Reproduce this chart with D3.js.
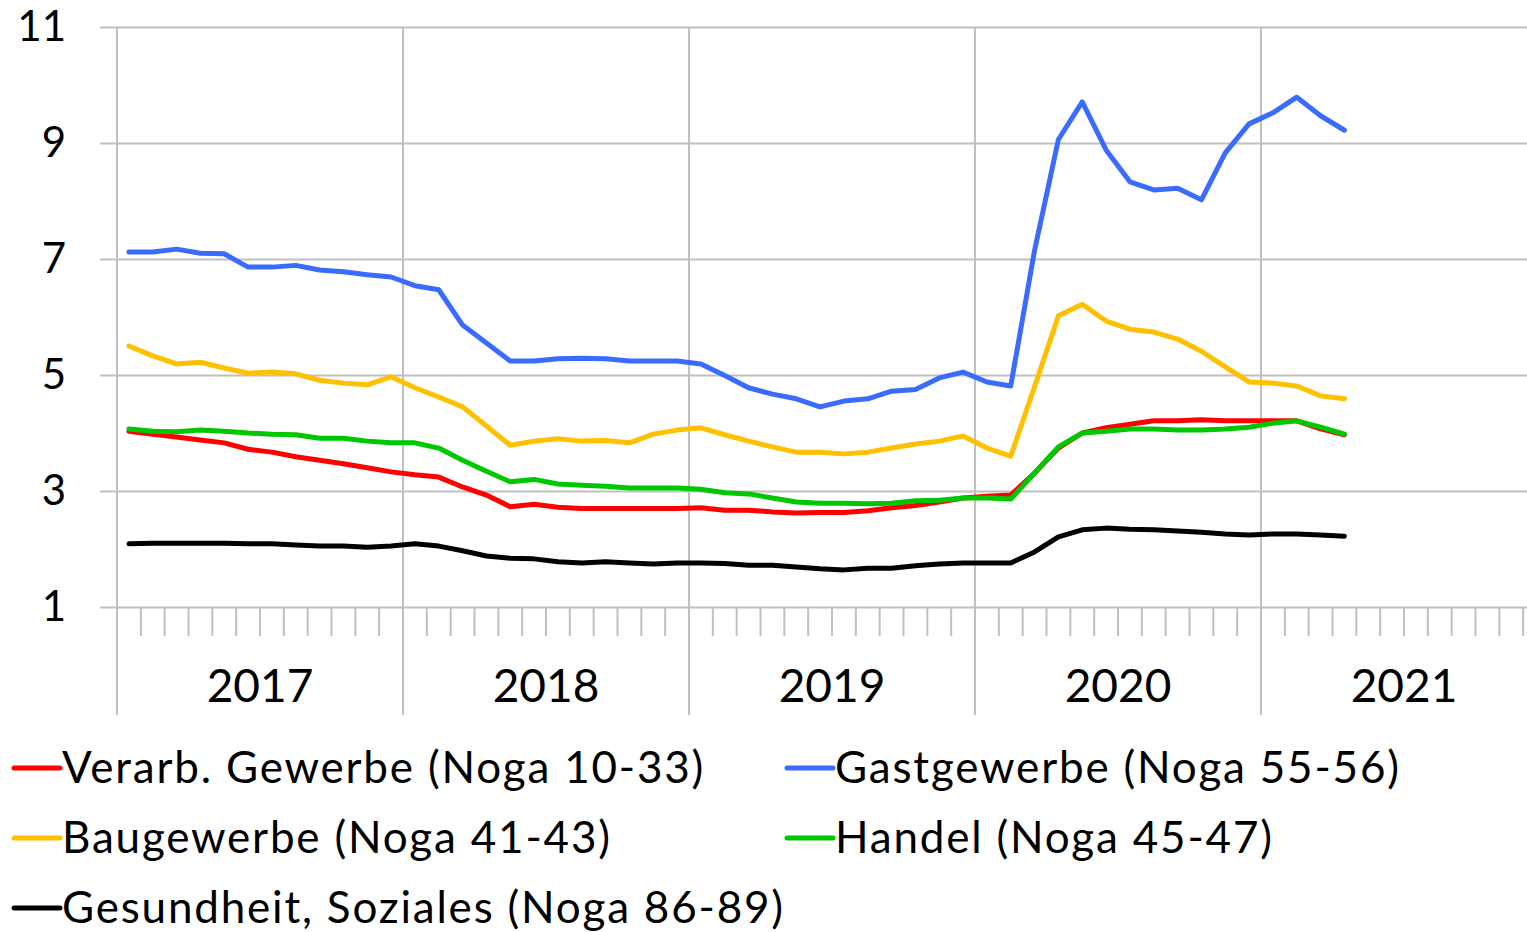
<!DOCTYPE html>
<html>
<head>
<meta charset="utf-8">
<script src="https://cdn.jsdelivr.net/npm/d3@7"></script>
<style>
  body { margin: 0; background: #fff; }
  svg { display: block; }
  text { font-family: Lato, "Open Sans", sans-serif; fill: #000; }
</style>
</head>
<body>
<svg width="1527" height="932"></svg>
<script>
// monthly values, Jan 2017 .. Apr 2021
const years = ["2017", "2018", "2019", "2020", "2021"];
const yTicks = [1, 3, 5, 7, 9, 11];

const verarb = [4.03, 3.98, 3.93, 3.88, 3.83, 3.72, 3.67, 3.59, 3.53, 3.47, 3.40, 3.33,
  3.28, 3.24, 3.07, 2.93, 2.73, 2.77, 2.72, 2.70, 2.70, 2.70, 2.70, 2.70,
  2.71, 2.67, 2.67, 2.64, 2.62, 2.63, 2.63, 2.66, 2.71, 2.75, 2.81, 2.88,
  2.91, 2.93, 3.31, 3.74, 4.00, 4.09, 4.15, 4.21, 4.21, 4.23, 4.21, 4.21,
  4.21, 4.21, 4.07, 3.97];
const gast = [7.12, 7.12, 7.17, 7.10, 7.09, 6.86, 6.86, 6.89, 6.81, 6.78, 6.73, 6.69,
  6.54, 6.47, 5.86, 5.55, 5.24, 5.24, 5.28, 5.29, 5.28, 5.24, 5.24, 5.24,
  5.19, 4.99, 4.78, 4.67, 4.59, 4.45, 4.55, 4.59, 4.72, 4.75, 4.95, 5.05,
  4.88, 4.81, 7.15, 9.06, 9.71, 8.88, 8.33, 8.19, 8.22, 8.02, 8.83, 9.33,
  9.52, 9.79, 9.47, 9.22];
const bau = [5.50, 5.33, 5.19, 5.22, 5.12, 5.03, 5.05, 5.02, 4.91, 4.86, 4.83, 4.97,
  4.78, 4.62, 4.45, 4.12, 3.79, 3.86, 3.90, 3.86, 3.87, 3.83, 3.98, 4.05,
  4.09, 3.97, 3.86, 3.76, 3.67, 3.67, 3.64, 3.67, 3.74, 3.81, 3.86, 3.95,
  3.74, 3.60, 4.80, 6.02, 6.22, 5.93, 5.79, 5.74, 5.62, 5.41, 5.14, 4.88,
  4.86, 4.81, 4.64, 4.59];
const handel = [4.07, 4.03, 4.02, 4.05, 4.03, 4.00, 3.98, 3.97, 3.91, 3.91, 3.86, 3.83,
  3.83, 3.74, 3.53, 3.34, 3.16, 3.20, 3.12, 3.10, 3.08, 3.05, 3.05, 3.05,
  3.03, 2.97, 2.95, 2.88, 2.81, 2.79, 2.79, 2.78, 2.79, 2.83, 2.84, 2.88,
  2.88, 2.86, 3.31, 3.76, 4.00, 4.03, 4.07, 4.07, 4.05, 4.05, 4.07, 4.10,
  4.17, 4.21, 4.10, 3.98];
const gesund = [2.09, 2.10, 2.10, 2.10, 2.10, 2.09, 2.09, 2.07, 2.05, 2.05, 2.03, 2.05,
  2.09, 2.05, 1.97, 1.88, 1.84, 1.83, 1.78, 1.76, 1.78, 1.76, 1.74, 1.76,
  1.76, 1.75, 1.72, 1.72, 1.69, 1.66, 1.64, 1.67, 1.67, 1.71, 1.74, 1.76,
  1.76, 1.76, 1.95, 2.21, 2.33, 2.36, 2.34, 2.33, 2.31, 2.29, 2.26, 2.24,
  2.26, 2.26, 2.24, 2.22];

const series = [
  { name: "Verarb. Gewerbe (Noga 10-33)", values: verarb, color: "#ff0000" },
  { name: "Gastgewerbe (Noga 55-56)", values: gast, color: "#3a6bff" },
  { name: "Baugewerbe (Noga 41-43)", values: bau, color: "#ffc000" },
  { name: "Handel (Noga 45-47)", values: handel, color: "#00c800" },
  { name: "Gesundheit, Soziales (Noga 86-89)", values: gesund, color: "#000000" }
];

const svg = d3.select("svg");
const width = +svg.attr("width");

const x = d3.scaleLinear()
  .domain([0, years.length * 12])
  .range([117, 117 + 286 * years.length]);

const y = d3.scaleLinear()
  .domain([1, 11])
  .range([607, 27]);

const gridColor = "#c0c0c0";

// horizontal gridlines + y labels
const yAxis = svg.append("g")
  .attr("transform", "translate(100,0)")
  .call(d3.axisLeft(y).tickValues(yTicks).tickSize(-(width - 100)).tickPadding(34));
yAxis.select(".domain").remove();
yAxis.selectAll("line").attr("stroke", gridColor).attr("stroke-width", 2);
yAxis.selectAll("text").attr("font-size", 42).attr("font-family", "Lato, sans-serif").attr("fill", "#000");

// month ticks
svg.append("g")
  .selectAll("line")
  .data(d3.range(0, years.length * 12 + 1))
  .enter().append("line")
  .attr("x1", d => x(d))
  .attr("x2", d => x(d))
  .attr("y1", d => d % 12 === 0 ? 27 : 607)
  .attr("y2", d => d % 12 === 0 ? 715 : 636)
  .attr("stroke", gridColor)
  .attr("stroke-width", 2);

// year labels
svg.append("g")
  .selectAll("text")
  .data(years)
  .enter().append("text")
  .attr("x", (d, i) => x(i * 12 + 6))
  .attr("y", 702)
  .attr("text-anchor", "middle")
  .attr("font-size", 46)
  .text(d => d);

// lines
const line = d3.line()
  .x((d, i) => x(i + 0.5))
  .y(d => y(d));

svg.append("g")
  .selectAll("path")
  .data(series)
  .enter().append("path")
  .attr("d", d => line(d.values))
  .attr("fill", "none")
  .attr("stroke", d => d.color)
  .attr("stroke-width", 5)
  .attr("stroke-linejoin", "round")
  .attr("stroke-linecap", "round");

// legend
const legend = svg.append("g");
const item = legend.selectAll("g")
  .data(series)
  .enter().append("g")
  .attr("transform", (d, i) => `translate(${i % 2 ? 787 : 14},${768 + Math.floor(i / 2) * 70})`);

item.append("line")
  .attr("x1", 0)
  .attr("x2", 46)
  .attr("stroke", d => d.color)
  .attr("stroke-width", 5)
  .attr("stroke-linecap", "round");

item.append("text")
  .attr("x", 48)
  .attr("dy", "0.35em")
  .attr("font-size", 44)
  .attr("letter-spacing", 1.8)
  .text(d => d.name);
</script>
</body>
</html>
